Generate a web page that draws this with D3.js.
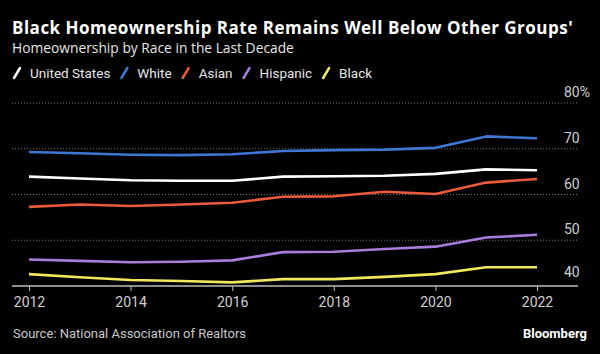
<!DOCTYPE html>
<html>
<head>
<meta charset="utf-8">
<script src="https://cdn.jsdelivr.net/npm/d3@7"></script>
<style>
  body { margin: 0; background: #000; }
  svg { display: block; }
</style>
</head>
<body>
<div id="viz"></div>
<script>
const years = [2012, 2013, 2014, 2015, 2016, 2017, 2018, 2019, 2020, 2021, 2022];
const unitedStates = [63.9, 63.5, 63.1, 63.0, 63.0, 63.9, 64.0, 64.1, 64.5, 65.5, 65.3];
const white = [69.3, 69.0, 68.7, 68.6, 68.8, 69.5, 69.7, 69.8, 70.2, 72.7, 72.3];
const asian = [57.3, 57.8, 57.5, 57.8, 58.2, 59.5, 59.6, 60.6, 60.1, 62.6, 63.4];
const hispanic = [45.8, 45.5, 45.2, 45.3, 45.6, 47.4, 47.5, 48.1, 48.6, 50.6, 51.2];
const black = [42.6, 41.9, 41.3, 41.1, 40.8, 41.5, 41.5, 42.0, 42.6, 44.1, 44.1];

const xTicks = [2012, 2014, 2016, 2018, 2020, 2022];
const yTicks = [40, 50, 60, 70, 80];

const series = [
  {name: "United States", color: "#ffffff", values: unitedStates},
  {name: "White", color: "#3f77d4", values: white},
  {name: "Asian", color: "#eb5a3a", values: asian},
  {name: "Hispanic", color: "#a87ddb", values: hispanic},
  {name: "Black", color: "#f2e85c", values: black},
];

const W = 600, H = 354;
const font = "Roboto, 'Liberation Sans', sans-serif";
const headFont = "'Open Sans', Roboto, sans-serif";

const svg = d3.select("#viz").append("svg")
  .attr("width", W)
  .attr("height", H)
  .style("font-family", font)
  .style("background", "#000");

const x = d3.scaleLinear().domain([2012, 2022]).range([29, 537]);
const y = d3.scaleLinear().domain([40, 80]).range([286, 103]);

// titles
svg.append("text")
  .attr("x", 12).attr("y", 33.5)
  .attr("fill", "#fff")
  .attr("font-family", headFont)
  .attr("font-size", 17)
  .attr("font-weight", "bold")
  .attr("letter-spacing", 0.5)
  .text("Black Homeownership Rate Remains Well Below Other Groups'");

svg.append("text")
  .attr("x", 12).attr("y", 52.5)
  .attr("fill", "#e6e6e6")
  .attr("font-family", headFont)
  .attr("font-size", 13.8)
  .text("Homeownership by Race in the Last Decade");

// legend
let lx = 14;
series.forEach(s => {
  svg.append("line")
    .attr("x1", lx).attr("y1", 78)
    .attr("x2", lx + 6).attr("y2", 68)
    .attr("stroke", s.color)
    .attr("stroke-width", 2.5)
    .attr("stroke-linecap", "round");
  const t = svg.append("text")
    .attr("x", lx + 16).attr("y", 78)
    .attr("fill", "#e6e6e6")
    .attr("font-size", 13.5)
    .text(s.name);
  lx = lx + 16 + t.node().getComputedTextLength() + 11;
});

// grid (dotted), skip the baseline
svg.append("g")
  .selectAll("line")
  .data(yTicks.filter(d => d > 40))
  .join("line")
    .attr("x1", 12).attr("x2", 578)
    .attr("y1", d => y(d)).attr("y2", d => y(d))
    .attr("stroke", "#777")
    .attr("stroke-width", 1)
    .attr("stroke-dasharray", "1,2");

// y labels sit above their gridline
svg.append("g")
  .selectAll("text")
  .data(yTicks)
  .join("text")
    .attr("x", 564)
    .attr("y", d => y(d) - (d == 40 ? 9 : 6))
    .attr("fill", "#d0d0d0")
    .attr("font-size", 14)
    .text(d => d == 80 ? d + "%" : d);

// x axis
const xAxis = svg.append("g")
  .attr("transform", `translate(0,${y(40)})`)
  .call(d3.axisBottom(x).tickValues(xTicks).tickFormat(d3.format("d")).tickSize(5).tickPadding(6));
xAxis.select(".domain").remove();
xAxis.append("line")
  .attr("x1", 12).attr("x2", 578)
  .attr("stroke", "#bbb").attr("stroke-width", 1.5);
xAxis.selectAll(".tick line").attr("stroke", "#bbb");
xAxis.selectAll(".tick text")
  .attr("fill", "#d0d0d0")
  .attr("font-size", 14)
  .attr("font-family", font);

// lines
const line = d3.line()
  .x((d, i) => x(years[i]))
  .y(d => y(d));

svg.append("g")
  .selectAll("path")
  .data(series)
  .join("path")
    .attr("fill", "none")
    .attr("stroke", d => d.color)
    .attr("stroke-width", 2.6)
    .attr("stroke-linejoin", "round")
    .attr("d", d => line(d.values));

// footer
svg.append("text")
  .attr("x", 13).attr("y", 338)
  .attr("fill", "#c8c8c8")
  .attr("font-size", 13)
  .text("Source: National Association of Realtors");

svg.append("text")
  .attr("x", 587).attr("y", 338)
  .attr("text-anchor", "end")
  .attr("fill", "#fff")
  .attr("font-size", 13)
  .attr("font-weight", "bold")
  .text("Bloomberg");
</script>
</body>
</html>
